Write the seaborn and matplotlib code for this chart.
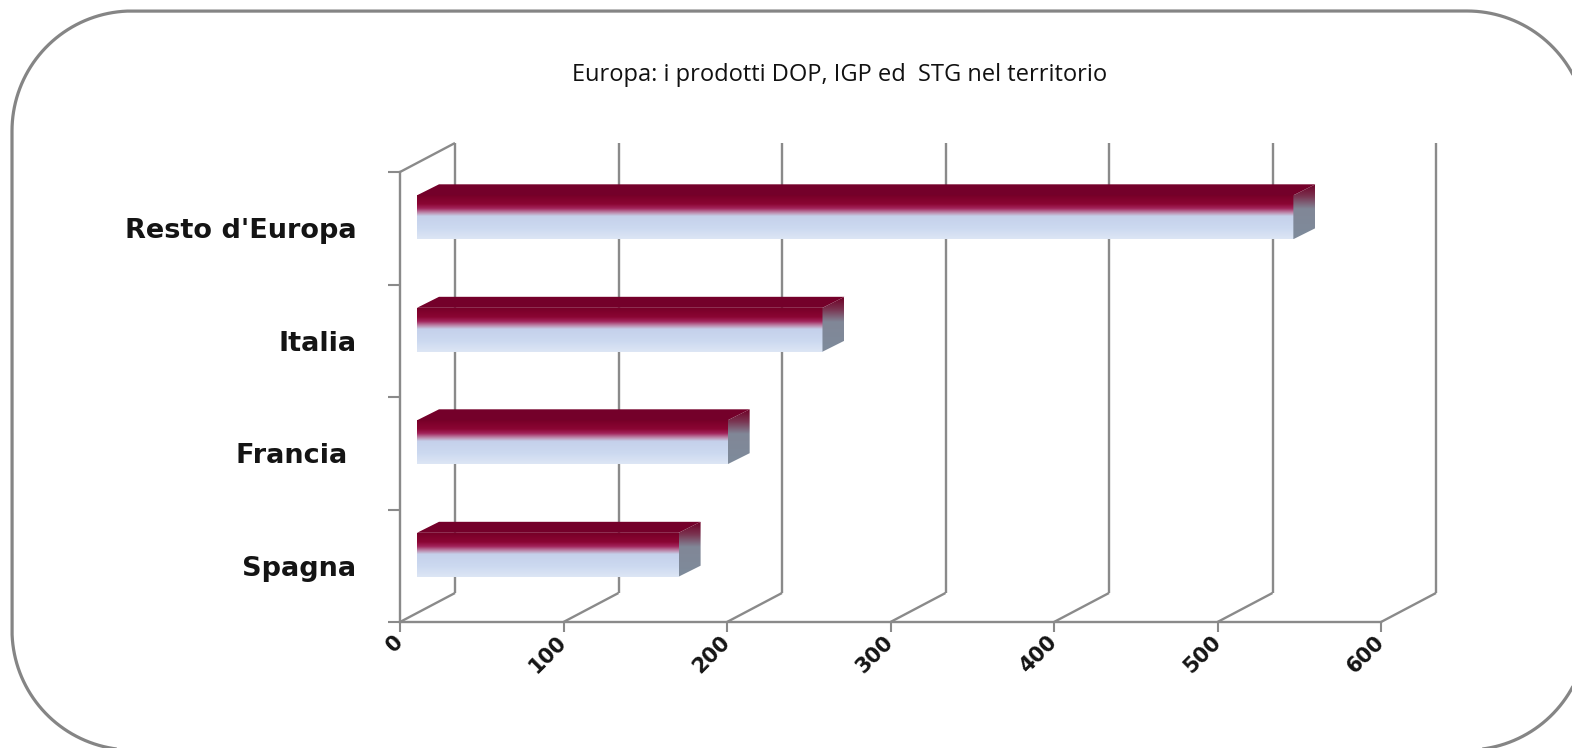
import numpy as np
import pandas as pd
import matplotlib
matplotlib.use("Agg")
import matplotlib.pyplot as plt
import matplotlib.transforms as mtransforms
from matplotlib.patches import Polygon, PathPatch
from matplotlib.path import Path
from matplotlib.lines import Line2D
from matplotlib.colors import LinearSegmentedColormap
import seaborn as sns

# ---- data -------------------------------------------------------------
title = "Europa: i prodotti DOP, IGP ed  STG nel territorio"
categories = ["Resto d'Europa", "Italia", "Francia ", "Spagna"]
values = [536, 248, 190, 160]
x_ticks = [0, 100, 200, 300, 400, 500, 600]

# ---- style ------------------------------------------------------------
sns.set_style("white")
plt.rcParams["font.family"] = ["DejaVu Sans"]

DPI = 100
W, H = 1572, 748
fig = plt.figure(figsize=(W / DPI, H / DPI), dpi=DPI)
fig.patch.set_facecolor("white")

GRID = "#8a8a8a"
TEXT = "#141414"

# front plane of the pseudo-3D box (figure pixels, measured from top)
FX0, FX1, FY_TOP, FY_BOT = 400, 1381, 172, 622
ax = fig.add_axes([FX0 / W, (H - FY_BOT) / H, (FX1 - FX0) / W, (FY_BOT - FY_TOP) / H])
ax.set_facecolor("none")

# depth offsets in pixels (right, up)
BACK = (55, 29)        # back wall relative to front plane
BAR_FRONT = (17, 11)   # bar front face relative to front plane
BAR_DEPTH = (22, 11)   # thickness of the bar

df = pd.DataFrame({"paese": categories, "n": values})
sns.barplot(data=df, x="n", y="paese", order=categories, orient="h",
            width=0.39, color="#c5d4ee", ax=ax, zorder=3)
ax.set_xlim(0, 600)
ax.set_ylim(3.5, -0.5)
ax.set_xlabel("")
ax.set_ylabel("")


def shift(dx, dy):
    return mtransforms.ScaledTranslation(dx / DPI, dy / DPI, fig.dpi_scale_trans)


def to_disp(x, y, off=(0, 0)):
    p = ax.transData.transform((x, y))
    return np.array([p[0] + off[0], p[1] + off[1]])


ident = mtransforms.IdentityTransform()


def seg(p, q):
    ln = Line2D([p[0], q[0]], [p[1], q[1]], transform=ident, color=GRID,
                lw=1.7, clip_on=False, zorder=1, solid_capstyle="butt")
    ax.add_artist(ln)


# walls: back verticals, floor diagonals, top edge of the left wall
for v in x_ticks:
    seg(to_disp(v, 3.5, BACK), to_disp(v, -0.5, BACK))
    seg(to_disp(v, 3.5), to_disp(v, 3.5, BACK))
seg(to_disp(0, -0.5), to_disp(0, -0.5, BACK))

# ---- bar faces ---------------------------------------------------------
front_cmap = LinearSegmentedColormap.from_list("front", [
    (0.00, "#780028"), (0.20, "#8a0533"), (0.30, "#a2235a"),
    (0.40, "#bd8aac"), (0.48, "#c5d1eb"), (0.75, "#ccd9f0"), (1.00, "#dde6f5")])
side_cmap = LinearSegmentedColormap.from_list("side", [
    (0.00, "#6e0026"), (0.22, "#7a3350"), (0.45, "#818797"),
    (1.00, "#7e8b9b")])
grad = np.linspace(0, 1, 256).reshape(-1, 1)

bars = [p for p in ax.patches]
front_tr = ax.transData + shift(*BAR_FRONT)
for p in bars:
    x0, y0 = p.get_x(), p.get_y()
    w, h = p.get_width(), p.get_height()
    p.set_transform(front_tr)
    p.set_facecolor("none")
    p.set_edgecolor("none")
    im = ax.imshow(grad, cmap=front_cmap, vmin=0, vmax=1, origin="upper",
                   extent=[x0, x0 + w, y0 + h, y0], aspect="auto",
                   transform=front_tr, zorder=3, interpolation="bilinear")
    im.set_clip_path(p)

    # top face
    a = to_disp(x0, y0, BAR_FRONT)
    b = to_disp(x0 + w, y0, BAR_FRONT)
    c = b + np.array(BAR_DEPTH)
    d = a + np.array(BAR_DEPTH)
    top = Polygon([a, b, c, d], closed=True, transform=ident,
                  facecolor="#74002a", edgecolor="none", zorder=3)
    ax.add_artist(top)

    # right side face
    e = to_disp(x0 + w, y0, BAR_FRONT)
    f = to_disp(x0 + w, y0 + h, BAR_FRONT)
    g = f + np.array(BAR_DEPTH)
    k = e + np.array(BAR_DEPTH)
    side = Polygon([e, f, g, k], closed=True, transform=ident,
                   facecolor="none", edgecolor="none")
    sim = ax.imshow(grad, cmap=side_cmap, vmin=0, vmax=1, origin="upper",
                    extent=[e[0], g[0], f[1], k[1]], aspect="auto",
                    transform=ident, zorder=3, interpolation="bilinear")
    sim.set_clip_path(side)

ax.set_xlim(0, 600)
ax.set_ylim(3.5, -0.5)

# ---- axes, ticks, labels ----------------------------------------------
for s in ("top", "right"):
    ax.spines[s].set_visible(False)
for s in ("left", "bottom"):
    ax.spines[s].set_color(GRID)
    ax.spines[s].set_linewidth(1.7)
    ax.spines[s].set_zorder(1)

ax.set_yticks(range(len(categories)), labels=categories)
ax.set_yticks([-0.5, 0.5, 1.5, 2.5, 3.5], minor=True)
ax.tick_params(axis="y", which="major", left=False, length=0, pad=31.5,
               labelsize=19.5, labelcolor=TEXT)
ax.tick_params(axis="y", which="minor", left=True, length=8.6, width=1.5,
               color=GRID)
for lab in ax.get_yticklabels():
    lab.set_fontweight("bold")

ax.set_xticks(x_ticks)
ax.set_xticklabels([str(v) for v in x_ticks], rotation=45, ha="right",
                   va="center", rotation_mode="anchor", fontweight="bold")
ax.tick_params(axis="x", bottom=True, length=7.2, width=1.5, color=GRID,
               pad=5, labelsize=15, labelcolor=TEXT)
ax.grid(False)

fig.text(840 / W, 1 - 75 / H, title, ha="center", va="center",
         fontsize=17, family=["Open Sans", "DejaVu Sans"], color="#111111")


# rounded outer frame (pixel units, y up)
def rounded_rect(x0, y0, x1, y1, r, n=40):
    t = np.linspace(0, np.pi / 2, n)
    pts = []
    for cx, cy, a0 in ((x1 - r, y1 - r, 0.0), (x0 + r, y1 - r, np.pi / 2),
                       (x0 + r, y0 + r, np.pi), (x1 - r, y0 + r, 1.5 * np.pi)):
        pts.extend(zip(cx + r * np.cos(a0 + t), cy + r * np.sin(a0 + t)))
    pts.append(pts[0])
    return Path(np.array(pts))


frame = PathPatch(rounded_rect(12, H - 750, 1587, H - 11, 120),
                  transform=mtransforms.Affine2D().scale(1 / DPI) + fig.dpi_scale_trans,
                  facecolor="none", edgecolor="#858585", linewidth=2.3)
fig.add_artist(frame)

fig.savefig("out.png", dpi=DPI, facecolor="white")
